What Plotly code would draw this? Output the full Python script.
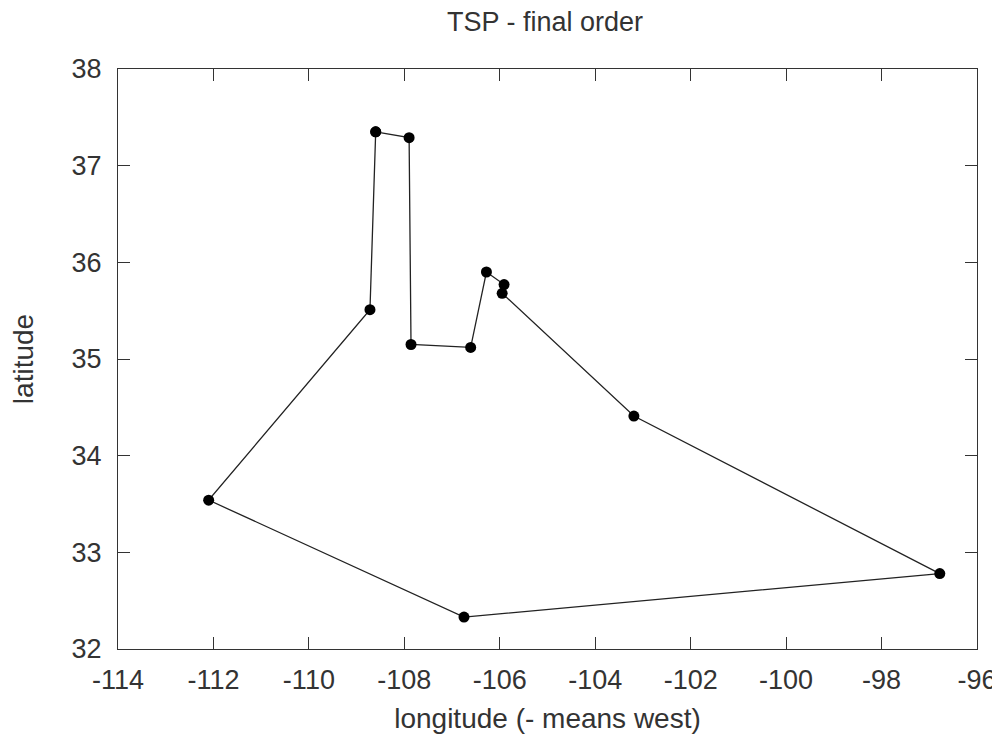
import plotly.graph_objects as go

# Tour order (longitude, latitude), closed back to the start
longitude = [-108.60, -107.90, -107.86, -106.61, -106.28, -105.91, -105.95,
             -103.19, -96.78, -106.75, -112.10, -108.72, -108.60]
latitude = [37.35, 37.29, 35.15, 35.12, 35.90, 35.77, 35.68,
            34.41, 32.78, 32.33, 33.54, 35.51, 37.35]

x_ticks = [-114, -112, -110, -108, -106, -104, -102, -100, -98, -96]
y_ticks = [32, 33, 34, 35, 36, 37, 38]

FONT = "Liberation Sans"
TXT = "#333333"

fig = go.Figure()
fig.add_trace(go.Scatter(
    x=longitude, y=latitude, mode="lines+markers",
    line=dict(color="#222222", width=1.3),
    marker=dict(color="black", size=11),
    showlegend=False, hoverinfo="x+y",
))

axis_common = dict(
    showgrid=False, zeroline=False, showline=True, mirror="ticks",
    linecolor="#333333", linewidth=1.3, automargin=False,
    ticks="inside", ticklen=12, tickwidth=1.2, tickcolor="#333333",
    ticklabeloverflow="allow",
    tickfont=dict(family=FONT, size=27, color=TXT),
)

fig.update_layout(
    width=992, height=726,
    margin=dict(l=110, r=23, t=61, b=85),
    paper_bgcolor="white", plot_bgcolor="white",
    title=dict(text="TSP - final order", x=537 / 992, xanchor="center",
               y=1 - 14 / 726, yanchor="middle",
               font=dict(family=FONT, size=27, color=TXT)),
    xaxis=dict(range=[-114, -96], tickvals=x_ticks,
               ticktext=[str(v) for v in x_ticks],
               ticklabelstandoff=6,
               title=dict(text="longitude (- means west)", standoff=14,
                          font=dict(family=FONT, size=28, color=TXT)),
               **axis_common),
    yaxis=dict(range=[32, 38], tickvals=y_ticks,
               ticktext=[str(v) for v in y_ticks],
               ticklabelstandoff=10,
               title=dict(text="latitude", standoff=37,
                          font=dict(family=FONT, size=28, color=TXT)),
               **axis_common),
)

fig.write_html("out.html")
